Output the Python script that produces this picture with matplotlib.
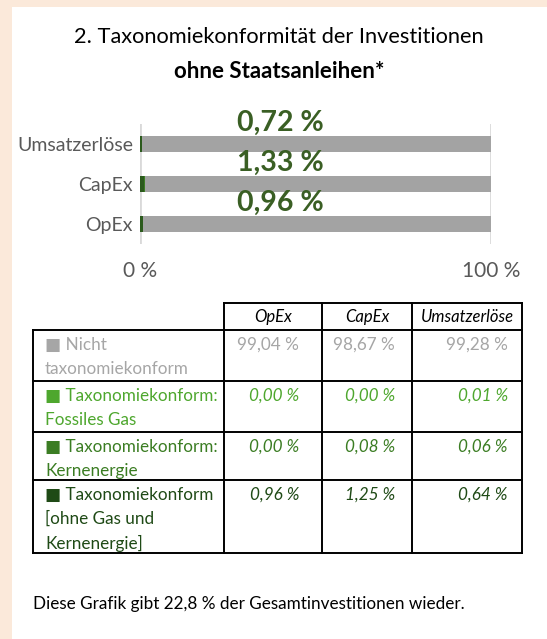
import numpy as np
import matplotlib.pyplot as plt
from matplotlib.patches import Rectangle

plt.rcParams['font.family'] = ['Lato', 'DejaVu Sans']

# data
categories = ["OpEx", "CapEx", "Umsatzerlöse"]
gas = [0.00, 0.00, 0.01]
kern = [0.00, 0.08, 0.06]
ohne = [0.96, 1.25, 0.64]
nicht = [99.04, 98.67, 99.28]
total_labels = ["0,96 %", "1,33 %", "0,72 %"]

table_cols = ["OpEx", "CapEx", "Umsatzerlöse"]
row_labels = [
    ["■ Nicht", "taxonomiekonform"],
    ["■ Taxonomiekonform:", "Fossiles Gas"],
    ["■ Taxonomiekonform:", "Kernenergie"],
    ["■ Taxonomiekonform", "[ohne Gas und", "Kernenergie]"],
]
row_values = [
    ["99,04 %", "98,67 %", "99,28 %"],
    ["0,00 %", "0,00 %", "0,01 %"],
    ["0,00 %", "0,08 %", "0,06 %"],
    ["0,96 %", "1,25 %", "0,64 %"],
]
row_colors = ["#a6a6a6", "#4ea72e", "#3b7d23", "#1f4a16"]
row_italic = [False, True, True, True]

W, H = 547, 639
fig = plt.figure(figsize=(W / 100, H / 100), dpi=100)
fig.patch.set_facecolor("#fbe9da")

# overlay in pixel coordinates
ov = fig.add_axes([0, 0, 1, 1])
ov.set_xlim(0, W)
ov.set_ylim(H, 0)
ov.axis("off")
ov.add_patch(Rectangle((12, 7), W - 12, H - 7, facecolor="white", edgecolor="none", zorder=0))

ov.text(279, 37, "2. Taxonomiekonformität der Investitionen", ha="center", va="center",
        fontsize=15.7, color="black")
ov.text(279, 71, "ohne Staatsanleihen*", ha="center", va="center",
        fontsize=16, fontweight="bold", color="black")

# bar chart
x0, x1, yt, yb = 140, 491, 124, 244
ax = fig.add_axes([x0 / W, 1 - yb / H, (x1 - x0) / W, (yb - yt) / H])
ax.set_zorder(2)
ax.patch.set_alpha(0)
y = np.arange(len(categories))
left = np.zeros(len(categories))
for vals, col in [(ohne, "#2b5a1c"), (gas, "#4ea72e"), (kern, "#3b7d23"), (nicht, "#a3a3a3")]:
    ax.barh(y, vals, left=left, height=0.38, color=col, zorder=3)
    left += np.array(vals)
ax.set_xlim(0, 100)
ax.set_ylim(-0.5, 2.5)
ax.set_xticks([0, 100])
ax.set_xticklabels(["0 %", "100 %"], fontsize=15, color="#595959")
ax.set_yticks(y)
ax.set_yticklabels(categories, fontsize=14, color="#595959")
ax.tick_params(length=0)
ax.tick_params(axis="y", pad=5)
ax.tick_params(axis="x", pad=12)
ax.grid(axis="x", color="#d9d9d9", linewidth=2)
for s in ax.spines.values():
    s.set_visible(False)
for yi, lab in zip(y, total_labels):
    ax.text(40, yi + 0.52, lab, ha="center", va="center", fontsize=20.5,
            fontweight="bold", color="#3a5f24", zorder=4)

# table
col_x = [33, 224, 322, 412, 522]
row_y = [303, 330, 381, 432, 480, 553]
val_right = [299, 395, 508]
lw = 1.4
ov.plot([col_x[1], col_x[-1]], [row_y[0], row_y[0]], color="black", lw=lw)
for yy in row_y[1:]:
    ov.plot([col_x[0], col_x[-1]], [yy, yy], color="black", lw=lw)
ov.plot([col_x[0], col_x[0]], [row_y[1], row_y[-1]], color="black", lw=lw)
for xx in col_x[1:]:
    ov.plot([xx, xx], [row_y[0], row_y[-1]], color="black", lw=lw)
for i, name in enumerate(table_cols):
    ov.text((col_x[i + 1] + col_x[i + 2]) / 2, 317, name, ha="center", va="center",
            fontsize=12, style="italic", color="black")
for r in range(len(row_labels)):
    top = row_y[r + 1]
    for k, line in enumerate(row_labels[r]):
        ov.text(45, top + 15 + 24 * k, line, ha="left", va="center", fontsize=12.3,
                color=row_colors[r])
    for c, v in enumerate(row_values[r]):
        ov.text(val_right[c], top + 15, v, ha="right", va="center", fontsize=12.3,
                color=row_colors[r],
                style="italic" if row_italic[r] else "normal")

ov.text(33, 604, "Diese Grafik gibt 22,8 % der Gesamtinvestitionen wieder.", ha="left",
        va="center", fontsize=12.3, color="black")

fig.savefig("out.png", dpi=100)
